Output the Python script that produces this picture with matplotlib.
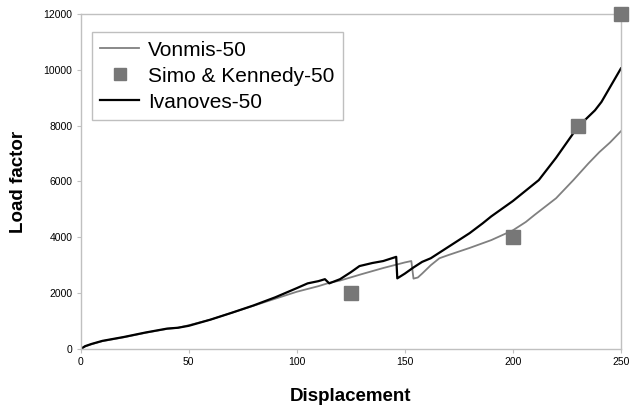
import numpy as np
import matplotlib.pyplot as plt

plt.rcParams['font.family'] = ['Liberation Sans', 'DejaVu Sans']

# Vonmis-50 (gray line)
vonmis_x = [0, 2, 5, 10, 20, 30, 40, 45, 50, 60, 70, 80, 90, 100, 110, 115, 120, 130, 140,
            150, 153, 154, 156, 158, 162, 166, 170, 180, 190, 200, 206, 210, 220, 228,
            235, 240, 245, 250]
vonmis_y = [0, 90, 170, 280, 420, 580, 720, 760, 850, 1050, 1300, 1550, 1800, 2050, 2250,
            2370, 2450, 2680, 2900, 3100, 3150, 2520, 2560, 2700, 3000, 3250, 3360, 3620,
            3900, 4250, 4550, 4800, 5400, 6050, 6650, 7050, 7400, 7800]

# Simo & Kennedy-50 (square markers)
simo_x = [125, 200, 230, 250]
simo_y = [2000, 4000, 8000, 12000]

# Ivanoves-50 (black line)
ivan_x = [0, 2, 5, 10, 20, 30, 40, 45, 50, 60, 70, 80, 90, 100, 105, 110, 113, 115, 120,
          125, 129, 135, 140, 146, 146.5, 150, 154, 158, 162, 170, 180, 186, 190, 200,
          212, 220, 225, 230, 234, 238, 241, 244, 247, 250]
ivan_y = [0, 100, 180, 290, 430, 590, 730, 760, 830, 1050, 1300, 1560, 1850, 2180, 2350,
          2430, 2500, 2350, 2500, 2750, 2970, 3080, 3150, 3300, 2530, 2700, 2920, 3120,
          3250, 3650, 4150, 4500, 4750, 5300, 6050, 6850, 7400, 7950, 8250, 8550, 8850,
          9250, 9650, 10050]

fig = plt.figure(figsize=(6.31, 4.12), dpi=100)
ax = fig.add_axes([0.128, 0.153, 0.856, 0.813])

ax.plot(vonmis_x, vonmis_y, color='#808080', lw=1.3, label='Vonmis-50')
ax.plot(simo_x, simo_y, ls='none', marker='s', ms=10, color='#777777',
        label='Simo & Kennedy-50', clip_on=False, zorder=5)
ax.plot(ivan_x, ivan_y, color='black', lw=1.6, label='Ivanoves-50')

ax.set_xlim(0, 250)
ax.set_ylim(0, 12000)
ax.set_xticks(np.arange(0, 251, 50))
ax.set_yticks(np.arange(0, 12001, 2000))

for s in ax.spines.values():
    s.set_color('#c0c0c0')
    s.set_linewidth(1.0)
ax.tick_params(axis='both', colors='#c0c0c0', labelcolor='black', labelsize=7.5,
               length=3, pad=3)

ax.set_xlabel('Displacement', fontsize=13.5, fontweight='bold', labelpad=15)
ax.set_ylabel('Load factor', fontsize=13.5, fontweight='bold', labelpad=12)

leg = ax.legend(loc='upper left', bbox_to_anchor=(0.02, 0.945), fontsize=15,
                frameon=True, fancybox=False, handlelength=1.9, handletextpad=0.4,
                borderpad=0.4, labelspacing=0.33, borderaxespad=0, markerscale=0.85)
leg.get_frame().set_edgecolor('#b0b0b0')
leg.get_frame().set_linewidth(1.0)

fig.savefig('out.png', dpi=100)
